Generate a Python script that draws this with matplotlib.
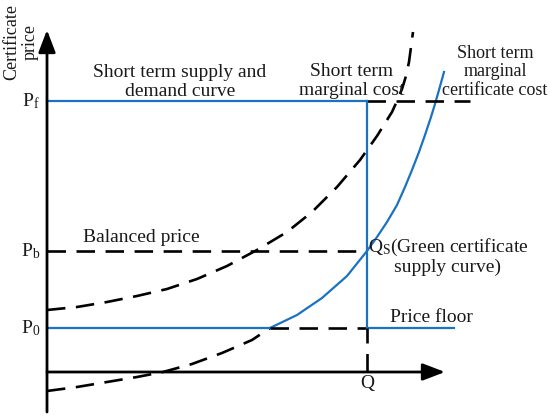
import numpy as np
import matplotlib
matplotlib.use("Agg")
import matplotlib.pyplot as plt

plt.rcParams['font.family'] = ['Liberation Serif', 'DejaVu Serif']
plt.rcParams['mathtext.fontset'] = 'custom'
plt.rcParams['mathtext.rm'] = 'Liberation Serif'
plt.rcParams['mathtext.it'] = 'Liberation Serif:italic'

# price levels and equilibrium quantity (schematic units)
p_floor = 44
p_bal = 121
p_f = 271
q_eq = 320

# supply curve (short term marginal certificate cost / green certificate supply)
supply_q = [0, 30, 60, 90, 116, 145, 175, 205, 223, 250, 275, 300, 320, 330, 340,
            350, 358, 365, 372, 378, 384, 388, 392, 397]
supply_p = [-19, -15, -10, -5, 0, 8, 19, 32, 44, 57, 74, 96, 121, 135, 150,
            167, 185, 202, 220, 237, 255, 268, 282, 300]

# short term marginal cost curve
cost_q = [0, 30, 60, 90, 120, 150, 180, 210, 240, 265, 290, 313, 330, 345, 350,
          355, 359, 362, 364, 366]
cost_p = [62, 65, 70, 76, 83, 93, 106, 122, 140, 160, 185, 212, 236, 260, 271,
          283, 296, 310, 325, 340]

blue = '#1a72c2'
dash = dict(color='black', lw=1.9, dashes=(7, 4))
solid = dict(color=blue, lw=1.6)

fig = plt.figure(figsize=(5.5, 4.18), dpi=100)
ax = fig.add_axes([0, 0, 1, 1])
ax.set_xlim(-47, 503)
ax.set_ylim(-46, 372)
ax.axis('off')

# supply curve: dashed below the price floor, solid above
k = supply_p.index(p_floor)
ax.plot(supply_q[:k + 1], supply_p[:k + 1], **dash)
ax.plot(supply_q[k:], supply_p[k:], **solid)
ax.plot(cost_q, cost_p, **dash)

cross_q = supply_q[k]

# horizontal price lines
ax.plot([0, q_eq], [p_f, p_f], **solid)
ax.plot([q_eq, 423], [p_f, p_f], **dash)
ax.plot([0, q_eq], [p_bal, p_bal], **dash)
ax.plot([0, cross_q], [p_floor, p_floor], **solid)
ax.plot([cross_q, q_eq], [p_floor, p_floor], **dash)
ax.plot([q_eq, 407], [p_floor, p_floor], **solid)

# vertical quantity line
ax.plot([q_eq, q_eq], [p_floor, p_f], **solid)
ax.plot([q_eq, q_eq], [0, p_floor], **dash)

# axes with arrows
arrow = dict(arrowstyle='-|>,head_length=0.68,head_width=0.26', lw=2,
             color='black', mutation_scale=20, shrinkA=0, shrinkB=0)
ax.annotate('', xy=(0, 342), xytext=(0, -40), arrowprops=arrow)
ax.annotate('', xy=(398, 0), xytext=(0, 0), arrowprops=arrow)

fs = 14
tc = '#1a1a1a'
ax.text(-26, 330, 'Certificate\nprice', rotation=90, ha='center', va='center',
        fontsize=13, color=tc, linespacing=1.1)
ax.text(-7, p_f, r'P$_\mathrm{f}$', ha='right', va='center', fontsize=fs, color=tc)
ax.text(-7, p_bal, r'P$_\mathrm{b}$', ha='right', va='center', fontsize=fs, color=tc)
ax.text(-7, p_floor, r'P$_\mathrm{0}$', ha='right', va='center', fontsize=fs, color=tc)
ax.text(q_eq, -3, 'Q', ha='center', va='top', fontsize=fs, color=tc)

ax.text(133, 290, 'Short term supply and\ndemand curve', ha='center', va='center',
        fontsize=fs, color=tc, linespacing=1.12)
ax.text(305, 291, 'Short term\nmarginal cost', ha='center', va='center',
        fontsize=fs, color=tc, linespacing=1.12)
ax.text(448, 300, 'Short term\nmarginal\ncertificate cost', ha='center', va='center',
        fontsize=13, color=tc, linespacing=1.12)
ax.text(36, 134, 'Balanced price', ha='left', va='center', fontsize=fs, color=tc)
ax.text(401, 116, 'Q$_\\mathrm{S}$(Green certificate\nsupply curve)', ha='center',
        va='center', multialignment='center', fontsize=fs, color=tc, linespacing=1.05)
ax.text(384, 55, 'Price floor', ha='center', va='center', fontsize=fs, color=tc)

fig.savefig('out.png', dpi=100)
